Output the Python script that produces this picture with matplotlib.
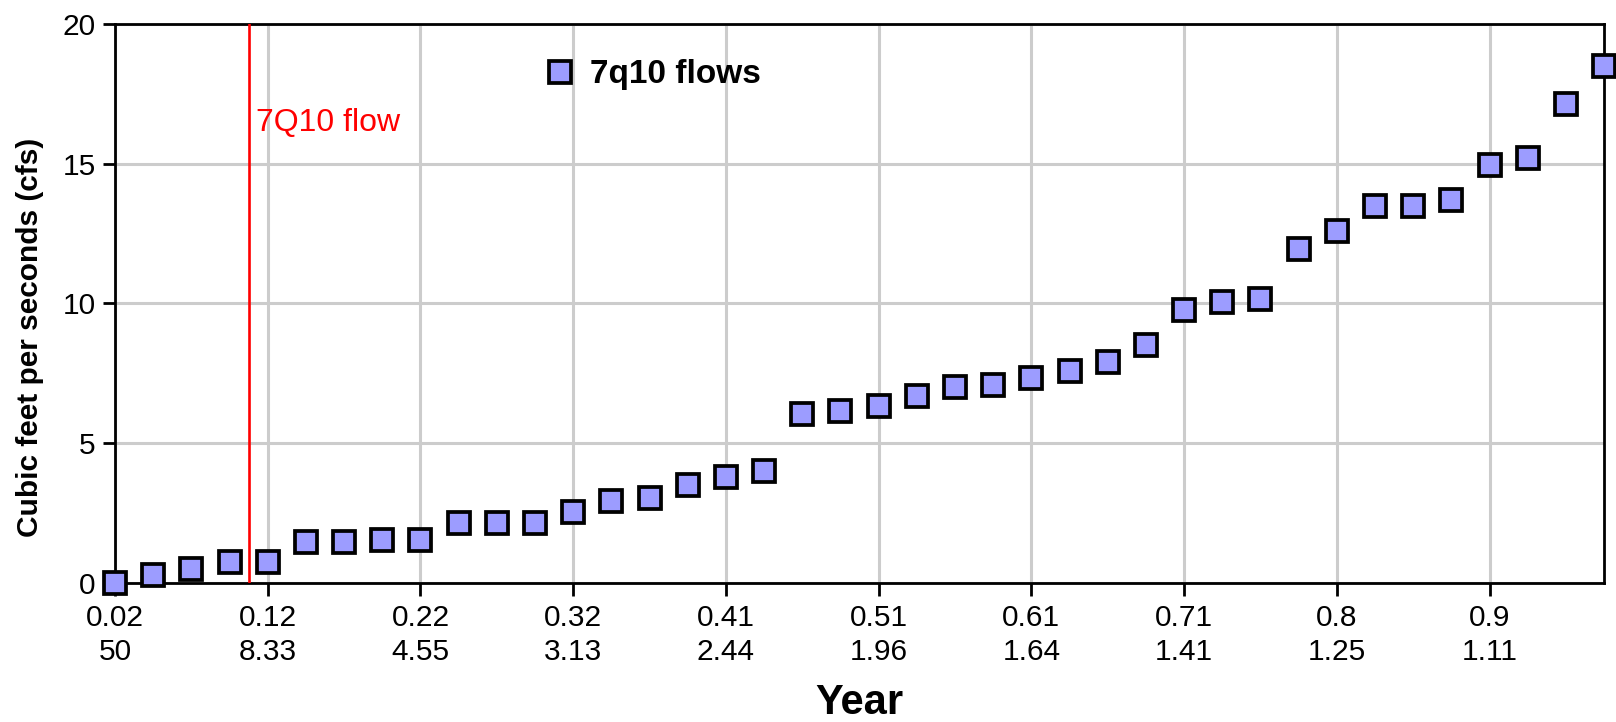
import numpy as np
import matplotlib
matplotlib.use('Agg')
from matplotlib import pyplot as plt

plt.rcParams['font.family'] = ['Liberation Sans', 'DejaVu Sans']

# 7q10 flows, ranked (cfs)
flows = [0.0, 0.3, 0.5, 0.75, 0.75, 1.45, 1.45, 1.55, 1.55, 2.15,
         2.15, 2.15, 2.55, 2.95, 3.05, 3.5, 3.8, 4.0, 6.05, 6.15,
         6.35, 6.7, 7.0, 7.1, 7.35, 7.6, 7.9, 8.5, 9.75, 10.05,
         10.15, 11.95, 12.6, 13.5, 13.5, 13.7, 14.95, 15.2, 17.15, 18.5]
rank = np.arange(1, len(flows) + 1)

tick_rank = [1, 5, 9, 13, 17, 21, 25, 29, 33, 37]
tick_prob = ['0.02', '0.12', '0.22', '0.32', '0.41', '0.51', '0.61', '0.71', '0.8', '0.9']
tick_period = ['50', '8.33', '4.55', '3.13', '2.44', '1.96', '1.64', '1.41', '1.25', '1.11']

q710_pos = 4.5
q710_label = '7Q10 flow'

fig = plt.figure(figsize=(16.16, 7.22), dpi=100)
ax = fig.add_axes([0.0712, 0.1925, 0.9214, 0.7743])

ax.plot(rank, flows, 's', ms=16, mew=2.7, mfc='#9C9CFF', mec='black',
        clip_on=False, zorder=5, label='7q10 flows')

ax.axvline(q710_pos, color='red', lw=1.9, zorder=4)
ax.text(q710_pos + 0.2, 16.45, q710_label, color='red', fontsize=23, va='center')

ax.set_xlim(1, 40)
ax.set_ylim(0, 20)
ax.set_yticks([0, 5, 10, 15, 20])
ax.set_xticks(tick_rank)
ax.set_xticklabels([p + '\n' + r for p, r in zip(tick_prob, tick_period)],
                   linespacing=1.3)
ax.tick_params(axis='both', labelsize=21.5, direction='out', length=9, width=2,
               color='black')
ax.tick_params(axis='x', pad=6)
ax.tick_params(axis='y', pad=5)

ax.grid(True, color='#cccccc', lw=2.2)
ax.set_axisbelow(True)
for s in ax.spines.values():
    s.set_linewidth(2)

ax.set_xlabel('Year', fontsize=30, fontweight='bold', labelpad=12)
ax.set_ylabel('Cubic feet per seconds (cfs)', fontsize=21.5, fontweight='bold')
ax.yaxis.set_label_coords(-0.048, 0.44)

leg = ax.legend(loc='center left', bbox_to_anchor=(0.281, 0.909), frameon=False,
                prop={'weight': 'bold', 'size': 24},
                handlelength=0.6, handletextpad=0.6, borderpad=0, numpoints=1)

fig.savefig('out.png', dpi=100)
